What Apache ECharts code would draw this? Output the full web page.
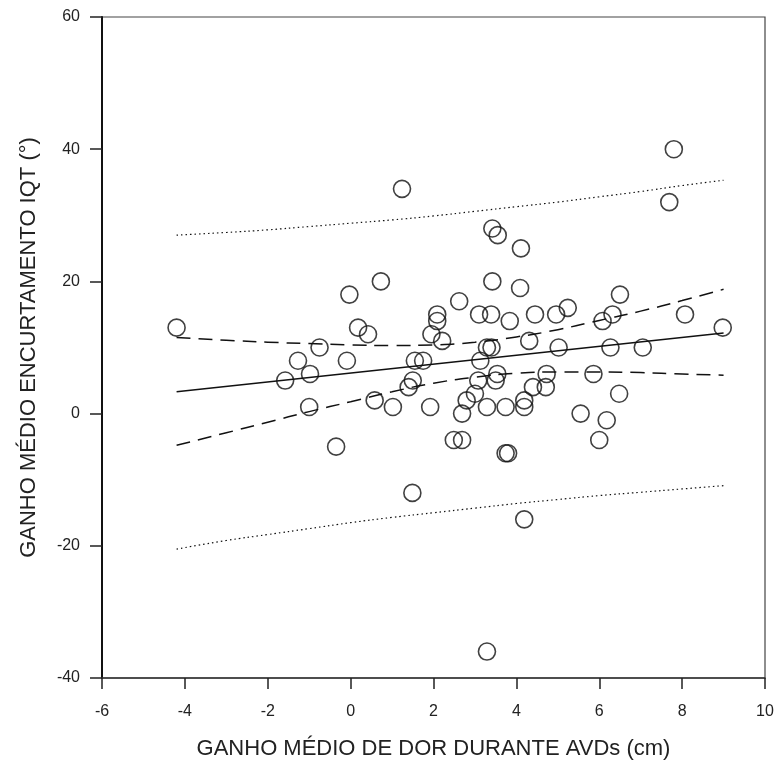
<!DOCTYPE html>
<html>
<head>
<meta charset="utf-8">
<script src="https://cdn.jsdelivr.net/npm/echarts@6/dist/echarts.min.js"></script>
<style>
html, body { margin: 0; padding: 0; background: #fff; }
#container { width: 778px; height: 765px; }
</style>
</head>
<body>
<div id="container"></div>
<script>
// pontos observados (ganho de dor x ganho de encurtamento)
var dorX = [-4.2, 1.24, 0.73, -0.03, 0.18, 0.42, 2.09, 2.09, 1.95, 2.21,
    7.8, 7.69, 3.42, 3.55, 4.11, 3.42, 4.09, 2.62, 6.5, 3.1,
    3.39, 3.84, 4.45, 4.96, 5.24, 6.08, 6.32, 8.07, 8.98, 4.31,
    3.29, 3.4, 5.02, 6.27, 7.05, 1.75, 3.13, 3.54, 3.5, 3.08,
    4.73, 5.86, 3.0, 2.8, 2.69, 3.29, 3.74, 4.19, 4.19, 4.4,
    4.71, 6.48, 5.55, 6.18, 6.0, 2.49, 2.69, 3.74, 3.8, 4.19,
    3.29, -0.75, -1.27, -0.09, 1.55, -1.58, -0.98, 1.5, 1.4, -1.0,
    0.58, 1.02, 1.92, -0.35, 1.49];
var iqtY = [13, 34, 20, 18, 13, 12, 15, 14, 12, 11,
    40, 32, 28, 27, 25, 20, 19, 17, 18, 15,
    15, 14, 15, 15, 16, 14, 15, 15, 13, 11,
    10, 10, 10, 10, 10, 8, 8, 6, 5, 5,
    6, 6, 3, 2, 0, 1, 1, 1, 2, 4,
    4, 3, 0, -1, -4, -4, -4, -6, -6, -16,
    -36, 10, 8, 8, 8, 5, 6, 5, 4, 1,
    2, 1, 1, -5, -12];

// reta de regressao
var retaX = [-4.2, 9];
var retaY = [3.3, 12.2];

// bandas
var bandaX = [-4.2, -3, -2, -1, 0, 1, 2, 3, 4, 5, 6, 7, 8, 9];
var icSup = [11.5, 11.1, 10.8, 10.6, 10.4, 10.3, 10.4, 10.8, 11.6, 12.7, 14.1, 15.5, 17.1, 18.8];
var icInf = [-4.8, -2.9, -1.3, 0.3, 1.8, 3.3, 4.6, 5.5, 6.1, 6.3, 6.3, 6.2, 6.0, 5.8];
var ipSup = [27.0, 27.4, 27.8, 28.3, 28.8, 29.3, 29.9, 30.6, 31.3, 32.0, 32.8, 33.6, 34.5, 35.3];
var ipInf = [-20.5, -19.2, -18.3, -17.4, -16.5, -15.7, -15.0, -14.3, -13.6, -13.0, -12.4, -11.9, -11.4, -10.9];

function pares(xs, ys) {
    var out = [];
    for (var i = 0; i < xs.length; i++) { out.push([xs[i], ys[i]]); }
    return out;
}

var linha = function (dados, tipo, largura) {
    return {
        type: 'line',
        data: dados,
        smooth: true,
        showSymbol: false,
        silent: true,
        z: 1,
        lineStyle: { color: '#111', width: largura, type: tipo }
    };
};

var myChart = echarts.init(document.getElementById('container'));
var fonte = 'Liberation Sans, Arial, sans-serif';

var option = {
    animation: false,
    backgroundColor: '#fff',
    grid: {
        left: 102, right: 13, top: 17, bottom: 87,
        show: true, borderColor: '#444', borderWidth: 1.2
    },
    xAxis: {
        type: 'value',
        min: -6, max: 10, interval: 2,
        name: 'GANHO MÉDIO DE DOR DURANTE AVDs (cm)',
        nameLocation: 'middle',
        nameGap: 60,
        nameTextStyle: { fontSize: 22, color: '#222', fontFamily: fonte },
        axisLine: { onZero: false, lineStyle: { color: '#333', width: 1.5 } },
        axisTick: { length: 11, lineStyle: { color: '#222', width: 1.5 } },
        axisLabel: { fontSize: 16, color: '#222', fontFamily: fonte, margin: 26 },
        splitLine: { show: false }
    },
    yAxis: {
        type: 'value',
        min: -40, max: 60, interval: 20,
        name: 'GANHO MÉDIO ENCURTAMENTO IQT (°)',
        nameLocation: 'middle',
        nameGap: 62,
        nameTextStyle: { fontSize: 22, color: '#222', fontFamily: fonte },
        axisLine: { onZero: false, lineStyle: { color: '#111', width: 2 } },
        axisTick: { length: 12, lineStyle: { color: '#222', width: 1.5 } },
        axisLabel: { fontSize: 16, color: '#222', fontFamily: fonte, margin: 22 },
        splitLine: { show: false }
    },
    series: [
        linha(pares(bandaX, ipSup), [1.5, 3], 1.2),
        linha(pares(bandaX, ipInf), [1.5, 3], 1.2),
        linha(pares(bandaX, icSup), [14, 8], 1.5),
        linha(pares(bandaX, icInf), [14, 8], 1.5),
        linha(pares(retaX, retaY), 'solid', 1.5),
        {
            type: 'scatter',
            data: pares(dorX, iqtY),
            symbol: 'circle',
            symbolSize: 17,
            silent: true,
            z: 3,
            itemStyle: { color: 'rgba(0,0,0,0)', borderColor: '#111', borderWidth: 1.6 }
        }
    ]
};

myChart.setOption(option);
</script>
</body>
</html>
